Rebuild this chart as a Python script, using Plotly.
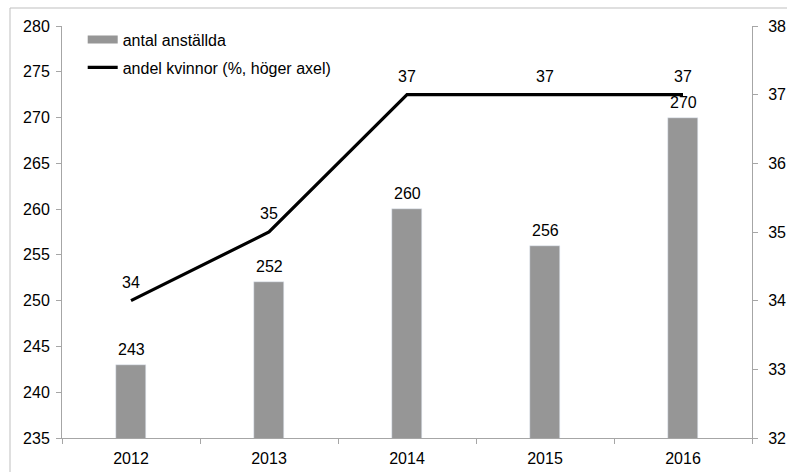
import plotly.graph_objects as go

years = ["2012", "2013", "2014", "2015", "2016"]
anstallda = [243, 252, 260, 256, 270]
kvinnor = [34, 35, 37, 37, 37]

bar_name = "antal anställda"
line_name = "andel kvinnor (%, höger axel)"

FONT = "Liberation Sans, Arial, sans-serif"
FS = 16
AXC = "#a6a6a6"

fig = go.Figure()
fig.add_trace(go.Bar(x=years, y=anstallda, marker_color="#969696", width=0.22,
                     showlegend=False, name=bar_name, hoverinfo="x+y"))
# legend proxy for the bar series (wide swatch like the original)
fig.add_trace(go.Scatter(x=[years[0]], y=[None], mode="lines", name=bar_name,
                         line=dict(color="#969696", width=8), legendgroup="a"))
fig.add_trace(go.Scatter(x=years, y=kvinnor, mode="lines", name=line_name,
                         line=dict(color="black", width=3.2), yaxis="y2", legendgroup="b"))

annotations = []
for i, v in enumerate(anstallda):
    annotations.append(dict(x=i, y=v, xref="x", yref="y", text=str(v), showarrow=False,
                            yanchor="bottom", yshift=5, font=dict(size=FS, color="black", family=FONT)))
for i, v in enumerate(kvinnor):
    annotations.append(dict(x=i, y=v, xref="x", yref="y2", text=str(v), showarrow=False,
                            yanchor="bottom", yshift=8, font=dict(size=FS, color="black", family=FONT)))

L, R, T, B = 62, 35, 26, 34
W, H = 787, 472
pw, ph = W - L - R, H - T - B
fx = (10 - L) / pw
fy = 1 + (T - 8) / ph

fig.update_layout(
    width=W, height=H,
    margin=dict(l=L, r=R, t=T, b=B, autoexpand=False),
    paper_bgcolor="white", plot_bgcolor="white",
    font=dict(family=FONT, size=FS, color="black"),
    bargap=0,
    xaxis=dict(type="category", categoryorder="array", categoryarray=years,
               range=[-0.5, len(years) - 0.5], automargin=False,
               showline=True, linecolor=AXC, linewidth=1,
               ticks="outside", tickson="boundaries", ticklen=5, tickcolor=AXC,
               ticklabelstandoff=6,
               showgrid=False, zeroline=False, tickfont=dict(size=FS)),
    yaxis=dict(range=[235, 280], dtick=5, showline=True, linecolor=AXC, linewidth=1,
               automargin=False,
               ticks="outside", ticklen=5, tickcolor=AXC, showgrid=False, zeroline=False,
               ticklabelstandoff=3, tickfont=dict(size=FS)),
    yaxis2=dict(range=[32, 38], dtick=1, overlaying="y", side="right", showline=True,
                automargin=False,
                linecolor=AXC, linewidth=1, ticks="outside", ticklen=5, tickcolor=AXC,
                ticklabelstandoff=7,
                showgrid=False, zeroline=False, tickfont=dict(size=FS)),
    legend=dict(x=0.030, y=1.008, xanchor="left", yanchor="top", bgcolor="rgba(0,0,0,0)",
                font=dict(size=FS), tracegroupgap=4, traceorder="grouped"),
    annotations=annotations,
    shapes=[
        dict(type="line", xref="paper", yref="paper", x0=fx, x1=1.2, y0=fy, y1=fy,
             line=dict(color="#bfbfbf", width=1)),
        dict(type="line", xref="paper", yref="paper", x0=fx, x1=fx, y0=-0.2, y1=fy,
             line=dict(color="#bfbfbf", width=1)),
    ],
)

fig.write_html("out.html")
